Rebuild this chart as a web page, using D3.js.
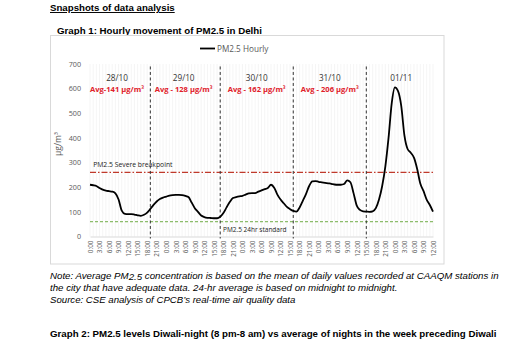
<!DOCTYPE html>
<html><head><meta charset="utf-8">
<script src="https://cdn.jsdelivr.net/npm/d3@7"></script>
<style>
body{margin:0;background:#fff;}
svg{display:block;}
</style></head>
<body>
<svg id="c" width="514" height="355"></svg>
<script>
// ---- data ----
const hourLabels = ["0:00","3:00","6:00","9:00","12:00","15:00","18:00","21:00",
 "0:00","3:00","6:00","9:00","12:00","15:00","18:00","21:00",
 "0:00","3:00","6:00","9:00","12:00","15:00","18:00","21:00",
 "0:00","3:00","6:00","9:00","12:00","15:00","18:00","21:00",
 "0:00","3:00","6:00","9:00","12:00"];
const pm25Hourly = [210,208,205,197,190,186,184,182,175,150,105,92,91,91,89,86,84,88,97,112,
 128,142,152,158,162,166,168,169,169,168,165,160,138,115,100,85,79,76,75,74,
 74,80,95,118,140,156,160,163,165,170,175,176,176,182,187,192,197,210,198,170,
 150,135,120,111,104,101,118,145,172,205,224,225,222,220,218,216,214,211,210,210,
 213,228,220,175,125,108,102,101,100,102,115,150,205,285,400,540,605,590,530,410,
 355,340,320,275,215,185,150,128,101];
const dayLabels = ["28/10","29/10","30/10","31/10","01/11"];
const dayLabelPos = [8.5, 29.5, 52.5, 75.5, 98];
const avgLabels = ["Avg-141 µg/m³","Avg - 128 µg/m³","Avg - 162 µg/m³","Avg - 206 µg/m³"];
const dividerPos = [19, 41, 64, 87];
const severeBreakpoint = 260;
const standard24hr = 60;
const yTicks = [0,100,200,300,400,500,600,700];

const svg = d3.select("#c");
const x = d3.scaleLinear().domain([0, pm25Hourly.length-1]).range([90, 433]);
const y = d3.scaleLinear().domain([0, 700]).range([236.5, 64]);

function fit(sel, width){
  const n = sel.node();
  const w = n.getComputedTextLength();
  const fs = parseFloat(sel.attr("font-size"));
  if (w > 0) sel.attr("font-size", (fs*width/w).toFixed(2));
  return sel;
}

const headFont = "Liberation Sans, Arial, sans-serif";
// page header
fit(svg.append("text").attr("x",50).attr("y",11).attr("font-family",headFont)
 .attr("font-weight","bold").attr("font-size",10).attr("text-decoration","underline").attr("fill","#000")
 .text("Snapshots of data analysis"), 125);
fit(svg.append("text").attr("x",57).attr("y",33.5).attr("font-family",headFont)
 .attr("font-weight","bold").attr("font-size",10).attr("fill","#000")
 .text("Graph 1: Hourly movement of PM2.5 in Delhi"), 205);

// chart frame
svg.append("rect").attr("x",50.5).attr("y",35.5).attr("width",393.5).attr("height",228.5)
 .attr("fill","none").attr("stroke","#d9d9d9").attr("stroke-width",1);

// faint vertical gridlines per hour
svg.append("g").selectAll("line").data(d3.range(pm25Hourly.length)).join("line")
 .attr("x1",d=>x(d)).attr("x2",d=>x(d)).attr("y1",y(700)).attr("y2",y(0))
 .attr("stroke","#efefef").attr("stroke-width",0.6);

// x axis
const xAxis = d3.axisBottom(x).tickValues(d3.range(0, pm25Hourly.length, 3))
 .tickFormat((d,i)=>hourLabels[i]).tickSize(0).tickPadding(3);
const gx = svg.append("g").attr("transform",`translate(0,${y(0)})`).call(xAxis);
gx.select(".domain").attr("stroke","#d9d9d9");
gx.selectAll("text").attr("font-family","Open Sans, sans-serif").attr("font-size",6.4).attr("fill","#595959")
 .attr("transform","rotate(-90)").attr("text-anchor","end").attr("dy","0.35em").attr("x",-4).attr("y",0);

// y axis
const yAxis = d3.axisLeft(y).tickValues(yTicks).tickSize(0).tickPadding(9);
const gy = svg.append("g").attr("transform",`translate(${x(0)},0)`).call(yAxis);
gy.select(".domain").remove();
gy.selectAll("text").attr("font-family","Open Sans, sans-serif").attr("font-size",7.2).attr("fill","#595959");

svg.append("text").attr("transform",`translate(61,144) rotate(-90)`).attr("text-anchor","middle")
 .attr("font-family","Open Sans, sans-serif").attr("font-size",8.5).attr("fill","#595959").text("µg/m³");

// reference lines
svg.append("line").attr("x1",x(0)).attr("x2",x(pm25Hourly.length-1)).attr("y1",y(severeBreakpoint)).attr("y2",y(severeBreakpoint))
 .attr("stroke","#c0392b").attr("stroke-width",1.3).attr("stroke-dasharray","6,2,1.5,2");
svg.append("line").attr("x1",x(0)).attr("x2",x(pm25Hourly.length-1)).attr("y1",y(standard24hr)).attr("y2",y(standard24hr))
 .attr("stroke","#70ad47").attr("stroke-width",1).attr("stroke-dasharray","3,2");
svg.append("text").attr("x",x(1)).attr("y",y(severeBreakpoint)-5).attr("font-family","Open Sans, sans-serif")
 .attr("font-size",6.8).attr("fill","#222").text("PM2.5 Severe breakpoint");
svg.append("text").attr("x",223).attr("y",y(standard24hr)+10.5).attr("font-family","Open Sans, sans-serif")
 .attr("font-size",6.5).attr("fill","#222").text("PM2.5 24hr standard");

// day dividers
svg.append("g").selectAll("line").data(dividerPos).join("line")
 .attr("x1",d=>x(d)).attr("x2",d=>x(d)).attr("y1",y(690)).attr("y2",y(0)+2)
 .attr("stroke","#333").attr("stroke-width",1).attr("stroke-dasharray","3,2.5");

// day labels
svg.append("g").selectAll("text").data(dayLabels).join("text")
 .attr("x",(d,i)=>x(dayLabelPos[i])).attr("y",80.5).attr("text-anchor","middle")
 .attr("font-family","Open Sans, sans-serif").attr("font-size",8.2).attr("fill","#333").text(d=>d);
svg.append("g").selectAll("text").data(avgLabels).join("text")
 .attr("x",(d,i)=>x(dayLabelPos[i])).attr("y",92).attr("text-anchor","middle")
 .attr("font-family","Open Sans, sans-serif").attr("font-weight","bold").attr("font-size",7.6).attr("fill","#e0202a").text(d=>d);

// the series line
const line = d3.line().x((d,i)=>x(i)).y(d=>y(d)).curve(d3.curveMonotoneX);
svg.append("path").datum(pm25Hourly).attr("d",line).attr("fill","none").attr("stroke","#000").attr("stroke-width",1.8);

// legend
svg.append("line").attr("x1",200).attr("x2",215).attr("y1",48.5).attr("y2",48.5).attr("stroke","#000").attr("stroke-width",1.8);
svg.append("text").attr("x",217).attr("y",51.5).attr("font-family","Open Sans, sans-serif").attr("font-size",8.2)
 .attr("fill","#595959").text("PM2.5 Hourly");

// notes
const n1 = svg.append("text").attr("x",50).attr("y",278.5).attr("font-family",headFont).attr("font-style","italic")
 .attr("font-size",9).attr("fill","#000");
n1.append("tspan").text("Note: Average PM");
n1.append("tspan").attr("dy",1.5).text("2.5");
n1.append("tspan").attr("dy",-1.5).text(" concentration is based on the mean of daily values recorded at CAAQM stations in");
fit(n1, 449);
fit(svg.append("text").attr("x",50).attr("y",290.5).attr("font-family",headFont).attr("font-style","italic")
 .attr("font-size",9).attr("fill","#000").text("the city that have adequate data. 24-hr average is based on midnight to midnight."), 348);
fit(svg.append("text").attr("x",50).attr("y",302.5).attr("font-family",headFont).attr("font-style","italic")
 .attr("font-size",9).attr("fill","#000").text("Source: CSE analysis of CPCB’s real-time air quality data"), 246);
fit(svg.append("text").attr("x",50).attr("y",336.5).attr("font-family",headFont).attr("font-weight","bold")
 .attr("font-size",9).attr("fill","#000").text("Graph 2: PM2.5 levels Diwali-night (8 pm-8 am) vs average of nights in the week preceding Diwali"), 447);
</script>
</body></html>
